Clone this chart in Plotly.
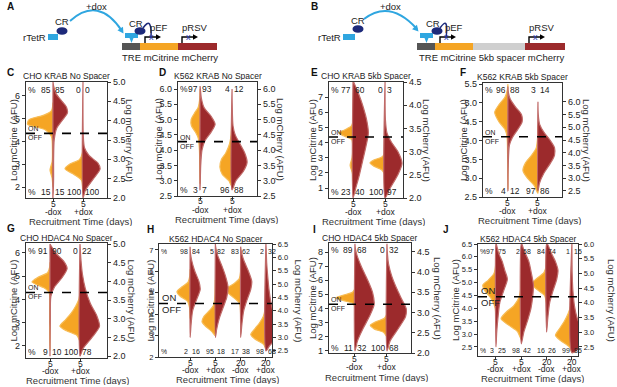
import plotly.graph_objects as go

W, H = 617, 387

# ----------------------------- DATA -----------------------------
# Half-violin profiles: [level, half-width].
# mCitrine halves use the left axis, mCherry halves the right axis.

C_TITLE = "CHO KRAB No Spacer"
C_CATS = ["5<br>-dox", "5<br>+dox"]
C_CIT = [
    [[2.0, 0], [2.4, 0.03], [2.75, 0.1], [3.1, 0.03], [3.6, 0.02], [4.2, 0.05], [4.5, 0.25], [4.75, 0.85], [4.95, 0.8], [5.15, 0.3], [5.35, 0.05], [5.7, 0]],
    [[1.8, 0], [2.3, 0.05], [2.55, 0.3], [2.8, 0.6], [3.0, 0.45], [3.2, 0.12], [3.5, 0.02], [4.0, 0]],
]
C_CHE = [
    [[2.0, 0], [2.5, 0.02], [3.0, 0.02], [3.5, 0.04], [3.8, 0.12], [4.0, 0.3], [4.2, 0.48], [4.35, 0.45], [4.5, 0.3], [4.7, 0.1], [4.9, 0.02], [5.0, 0]],
    [[2.0, 0], [2.2, 0.08], [2.5, 0.35], [2.75, 0.57], [2.9, 0.5], [3.1, 0.2], [3.3, 0.05], [3.6, 0.01], [5.0, 0]],
]
C_TOP = [85, 85, 0, 0]
C_BOT = [15, 15, 100, 100]
C_LTICKS = ["2", "3", "4", "5", "6"]
C_RTICKS = ["2.0", "2.5", "3.0", "3.5", "4.0", "4.5", "5.0"]
C_THRESH = 4.35

D_TITLE = "K562 KRAB No Spacer"
D_CATS = ["5<br>-dox", "5<br>+dox"]
D_CIT = [
    [[2.9, 0], [3.5, 0.01], [4.0, 0.02], [4.4, 0.06], [4.6, 0.15], [4.8, 0.27], [5.0, 0.28], [5.2, 0.18], [5.4, 0.06], [5.7, 0.01], [6.0, 0]],
    [[2.8, 0], [3.0, 0.1], [3.2, 0.3], [3.45, 0.38], [3.7, 0.33], [3.9, 0.2], [4.2, 0.08], [4.5, 0.03], [5.0, 0.005], [5.2, 0]],
]
D_CHE = [
    [[2.7, 0], [3.5, 0.02], [4.0, 0.06], [4.3, 0.15], [4.6, 0.35], [4.85, 0.47], [5.1, 0.35], [5.4, 0.12], [5.7, 0.04], [6.0, 0.01], [6.1, 0]],
    [[2.7, 0], [3.0, 0.12], [3.3, 0.35], [3.6, 0.47], [3.9, 0.4], [4.2, 0.25], [4.5, 0.1], [4.8, 0.03], [5.5, 0.005], [6.0, 0]],
]
D_TOP = [97, 93, 4, 12]
D_BOT = [3, 7, 96, 88]
D_LTICKS = ["2.5", "3.0", "3.5", "4.0", "4.5", "5.0", "5.5", "6.0"]
D_RTICKS = ["2.5", "3.0", "3.5", "4.0", "4.5", "5.0", "5.5", "6.0"]
D_THRESH = 4.28

E_TITLE = "CHO KRAB 5kb Spacer"
E_CATS = ["5<br>-dox", "5<br>+dox"]
E_CIT = [
    [[1.5, 0], [2.0, 0.02], [2.5, 0.09], [3.0, 0.03], [3.5, 0.01], [4.2, 0.04], [4.45, 0.3], [4.65, 0.45], [4.85, 0.25], [5.1, 0.05], [5.4, 0]],
    [[1.9, 0], [2.2, 0.1], [2.45, 0.35], [2.65, 0.47], [2.85, 0.35], [3.05, 0.1], [3.3, 0.01], [3.6, 0]],
]
E_CHE = [
    [[2.0, 0], [2.2, 0.08], [2.5, 0.2], [2.8, 0.3], [3.1, 0.4], [3.4, 0.48], [3.7, 0.42], [4.0, 0.3], [4.2, 0.2], [4.4, 0.08], [4.5, 0.02], [4.55, 0]],
    [[2.0, 0], [2.2, 0.15], [2.5, 0.4], [2.75, 0.53], [3.0, 0.4], [3.2, 0.2], [3.4, 0.06], [3.7, 0.01], [4.5, 0]],
]
E_TOP = [77, 60, 0, 3]
E_BOT = [23, 40, 100, 97]
E_LTICKS = ["1", "2", "3", "4", "5", "6", "7"]
E_RTICKS = ["2.0", "2.5", "3.0", "3.5", "4.0", "4.5"]
E_THRESH = 4.37

F_TITLE = "K562 KRAB 5kb Spacer"
F_CATS = ["5<br>-dox", "5<br>+dox"]
F_CIT = [
    [[2.7, 0], [3.5, 0.01], [4.1, 0.03], [4.3, 0.1], [4.5, 0.3], [4.75, 0.44], [4.95, 0.3], [5.15, 0.1], [5.35, 0.02], [5.5, 0]],
    [[2.6, 0], [2.8, 0.12], [3.0, 0.35], [3.2, 0.5], [3.4, 0.42], [3.6, 0.22], [3.8, 0.06], [4.1, 0.01], [4.4, 0]],
]
F_CHE = [
    [[2.5, 0], [3.5, 0.01], [4.3, 0.05], [4.6, 0.15], [4.9, 0.32], [5.2, 0.47], [5.5, 0.45], [5.8, 0.25], [6.1, 0.08], [6.4, 0.01], [6.6, 0]],
    [[2.5, 0], [2.8, 0.05], [3.2, 0.2], [3.6, 0.42], [3.9, 0.55], [4.2, 0.55], [4.5, 0.4], [4.8, 0.2], [5.1, 0.06], [5.5, 0.01], [6.0, 0]],
]
F_TOP = [96, 88, 3, 14]
F_BOT = [4, 12, 97, 86]
F_LTICKS = ["2.5", "3.0", "3.5", "4.0", "4.5", "5.0", "5.5"]
F_RTICKS = ["2.5", "3.0", "3.5", "4.0", "4.5", "5.0", "5.5", "6.0"]
F_THRESH = 4.1

G_TITLE = "CHO HDAC4 No Spacer"
G_CATS = ["5<br>-dox", "5<br>+dox"]
G_CIT = [
    [[1.8, 0], [2.5, 0.01], [3.5, 0.01], [4.3, 0.03], [4.5, 0.2], [4.75, 0.6], [4.95, 0.4], [5.15, 0.08], [5.4, 0.01], [5.6, 0]],
    [[2.2, 0], [2.45, 0.1], [2.65, 0.45], [2.85, 0.67], [3.1, 0.5], [3.4, 0.3], [3.7, 0.15], [4.0, 0.04], [4.3, 0]],
]
G_CHE = [
    [[2.0, 0], [3.0, 0.01], [3.6, 0.03], [3.85, 0.15], [4.1, 0.4], [4.35, 0.57], [4.55, 0.45], [4.75, 0.2], [4.95, 0.04], [5.0, 0]],
    [[2.0, 0], [2.2, 0.1], [2.5, 0.4], [2.8, 0.65], [3.1, 0.55], [3.4, 0.35], [3.8, 0.18], [4.2, 0.08], [4.6, 0.03], [5.0, 0]],
]
G_TOP = [91, 90, 0, 22]
G_BOT = [9, 10, 100, 78]
G_LTICKS = ["2", "3", "4", "5", "6"]
G_RTICKS = ["2.0", "2.5", "3.0", "3.5", "4.0", "4.5", "5.0"]
G_THRESH = 4.3

H_TITLE = "K562 HDAC4 No Spacer"
H_CATS = ["5<br>-dox", "5<br>+dox", "20<br>-dox", "20<br>+dox"]
H_CIT = [
    [[3.8, 0], [4.3, 0.02], [4.6, 0.1], [4.85, 0.4], [5.05, 0.52], [5.25, 0.35], [5.5, 0.08], [5.8, 0.01], [6.1, 0]],
    [[3.0, 0], [3.2, 0.15], [3.45, 0.4], [3.65, 0.53], [3.9, 0.45], [4.15, 0.25], [4.4, 0.08], [4.8, 0.02], [5.3, 0.005], [5.6, 0]],
    [[4.0, 0], [4.5, 0.04], [4.75, 0.25], [5.0, 0.5], [5.2, 0.56], [5.4, 0.3], [5.65, 0.06], [6.0, 0]],
    [[2.4, 0], [2.6, 0.1], [2.85, 0.45], [3.05, 0.6], [3.3, 0.45], [3.6, 0.25], [3.9, 0.1], [4.3, 0.03], [4.8, 0.005], [5.0, 0]],
]
H_CHE = [
    [[3.0, 0], [3.5, 0.04], [4.0, 0.1], [4.4, 0.25], [4.8, 0.4], [5.1, 0.35], [5.5, 0.18], [5.9, 0.06], [6.2, 0.01], [6.4, 0]],
    [[3.0, 0], [3.3, 0.05], [3.7, 0.15], [4.1, 0.3], [4.5, 0.45], [4.9, 0.5], [5.3, 0.4], [5.7, 0.25], [6.1, 0.08], [6.4, 0.01], [6.5, 0]],
    [[3.0, 0], [3.5, 0.05], [4.0, 0.12], [4.4, 0.25], [4.8, 0.4], [5.1, 0.44], [5.5, 0.3], [5.9, 0.12], [6.2, 0.03], [6.4, 0]],
    [[2.5, 0], [2.7, 0.15], [3.0, 0.45], [3.2, 0.53], [3.5, 0.45], [3.9, 0.3], [4.3, 0.2], [4.8, 0.12], [5.3, 0.07], [5.8, 0.03], [6.3, 0.01], [6.5, 0]],
]
H_TOP = [98, 84, 5, 82, 83, 62, 2, 32]
H_BOT = [2, 16, 95, 18, 17, 38, 98, 68]
H_LTICKS = ["2", "3", "4", "5", "6", "7"]
H_RTICKS = ["2.5", "3.0", "3.5", "4.0", "4.5", "5.0", "5.5", "6.0", "6.5"]
H_THRESH = 4.5

I_TITLE = "CHO HDAC4 5kb Spacer"
I_CATS = ["5<br>-dox", "5<br>+dox"]
I_CIT = [
    [[4.1, 0], [4.35, 0.05], [4.55, 0.35], [4.75, 0.6], [4.95, 0.35], [5.15, 0.08], [5.4, 0]],
    [[2.0, 0], [2.3, 0.1], [2.55, 0.4], [2.8, 0.52], [3.05, 0.35], [3.3, 0.08], [3.6, 0]],
]
I_CHE = [
    [[2.05, 0], [2.3, 0.08], [2.6, 0.25], [2.9, 0.45], [3.2, 0.6], [3.5, 0.55], [3.8, 0.4], [4.1, 0.22], [4.4, 0.07], [4.6, 0.01], [4.7, 0]],
    [[2.05, 0], [2.3, 0.1], [2.6, 0.35], [2.9, 0.58], [3.1, 0.6], [3.35, 0.45], [3.6, 0.3], [3.9, 0.15], [4.2, 0.05], [4.5, 0.01], [4.7, 0]],
]
I_TOP = [89, 68, 0, 32]
I_BOT = [11, 32, 100, 68]
I_LTICKS = ["1", "2", "3", "4", "5", "6", "7", "8"]
I_RTICKS = ["2.0", "2.5", "3.0", "3.5", "4.0", "4.5"]
I_THRESH = 4.3

J_TITLE = "K562 HDAC4 5kb Spacer"
J_CATS = ["5<br>-dox", "5<br>+dox", "20<br>-dox", "20<br>+dox"]
J_CIT = [
    [[3.5, 0], [4.0, 0.03], [4.4, 0.2], [4.7, 0.45], [4.9, 0.52], [5.1, 0.3], [5.35, 0.08], [5.7, 0.01], [6.0, 0]],
    [[2.8, 0], [3.1, 0.15], [3.35, 0.5], [3.6, 0.8], [3.85, 0.6], [4.1, 0.3], [4.4, 0.1], [4.8, 0.02], [5.2, 0]],
    [[4.2, 0], [4.5, 0.08], [4.75, 0.4], [4.95, 0.6], [5.15, 0.4], [5.4, 0.1], [5.7, 0.01], [6.0, 0]],
    [[2.3, 0], [2.5, 0.1], [2.75, 0.45], [2.95, 0.65], [3.2, 0.5], [3.5, 0.3], [3.8, 0.15], [4.1, 0.05], [4.5, 0.01], [4.8, 0]],
]
J_CHE = [
    [[2.5, 0], [3.0, 0.03], [3.5, 0.08], [4.0, 0.15], [4.4, 0.3], [4.8, 0.45], [5.1, 0.35], [5.4, 0.25], [5.7, 0.1], [6.0, 0.01]],
    [[2.6, 0], [3.0, 0.1], [3.4, 0.25], [3.8, 0.38], [4.2, 0.45], [4.6, 0.48], [5.0, 0.4], [5.4, 0.3], [5.8, 0.1], [6.0, 0.02]],
    [[3.0, 0], [3.5, 0.05], [4.0, 0.12], [4.4, 0.25], [4.8, 0.4], [5.1, 0.45], [5.4, 0.35], [5.7, 0.18], [6.0, 0.03]],
    [[2.3, 0], [2.5, 0.35], [2.7, 0.7], [2.9, 0.55], [3.2, 0.35], [3.5, 0.2], [3.9, 0.1], [4.4, 0.04], [5.0, 0.01], [6.0, 0]],
]
J_TOP = [97, 75, 2, 58, 84, 74, 1, 15]
J_BOT = [3, 25, 98, 42, 16, 26, 99, 85]
J_LTICKS = ["2.5", "3.0", "3.5", "4.0", "4.5", "5.0", "5.5", "6.0", "6.5"]
J_RTICKS = ["2.5", "3.0", "3.5", "4.0", "4.5", "5.0", "5.5", "6.0"]
J_THRESH = 4.45

# Schematic labels
A_PARTS = ["TRE", "mCitrine", "mCherry"]
B_PARTS = ["TRE", "mCitrine", "5kb spacer", "mCherry"]

# ----------------------------- STYLE / GEOMETRY -----------------------------
ORANGE = "#F5A524"
ORANGE_RIM = "#F7BC55"
RED = "#9C2A2C"
RED_RIM = "#C06A68"
NAVY = "#1D2A7A"
LBLUE = "#2FA6E0"
FRAME = "#333333"
FONT = "Liberation Sans, Arial, sans-serif"

# cat label offsets below box: (day line, dox line, axis title)
TOP_OFF = (5.5, 14, 23)
BOT_OFF = (5.5, 13, 21.5)

PANELS = [
    dict(key="C", title=C_TITLE, cats=C_CATS, cit=C_CIT, che=C_CHE, top=C_TOP, bot=C_BOT, lt=C_LTICKS, rt=C_RTICKS, th=C_THRESH,
         box=(26, 107, 82, 198), xr=(-0.9, 1.8), yl=(1.52, 6.6), yr=(2.0, 5.0), ltx=13, rtx=130, xt=81, letter=(6, 72), small=False, off=TOP_OFF),
    dict(key="D", title=D_TITLE, cats=D_CATS, cit=D_CIT, che=D_CHE, top=D_TOP, bot=D_BOT, lt=D_LTICKS, rt=D_RTICKS, th=D_THRESH,
         box=(178, 257, 82, 196), xr=(-0.69, 1.78), yl=(2.5, 6.23), yr=(2.5, 6.23), ltx=158, rtx=281, xt=226, letter=(158, 72), small=False, off=TOP_OFF),
    dict(key="E", title=E_TITLE, cats=E_CATS, cit=E_CIT, che=E_CHE, top=E_TOP, bot=E_BOT, lt=E_LTICKS, rt=E_RTICKS, th=E_THRESH,
         box=(329, 403, 82, 198), xr=(-0.75, 1.56), yl=(0.35, 8.0), yr=(2.0, 4.5), ltx=312, rtx=427, xt=373, letter=(310, 72), small=False, off=TOP_OFF),
    dict(key="F", title=F_TITLE, cats=F_CATS, cit=F_CIT, che=F_CHE, top=F_TOP, bot=F_BOT, lt=F_LTICKS, rt=F_RTICKS, th=F_THRESH,
         box=(483, 562, 83, 197), xr=(-0.83, 1.8), yl=(2.5, 5.53), yr=(2.26, 6.74), ltx=463, rtx=587, xt=529, letter=(459, 72), small=False, off=TOP_OFF),
    dict(key="G", title=G_TITLE, cats=G_CATS, cit=G_CIT, che=G_CHE, top=G_TOP, bot=G_BOT, lt=G_LTICKS, rt=G_RTICKS, th=G_THRESH,
         box=(26, 107, 243, 358), xr=(-0.8, 1.9), yl=(1.48, 6.43), yr=(1.95, 5.03), ltx=13, rtx=131, xt=78, letter=(6, 228), small=False, off=BOT_OFF),
    dict(key="H", title=H_TITLE, cats=H_CATS, cit=H_CIT, che=H_CHE, top=H_TOP, bot=H_BOT, lt=H_LTICKS, rt=H_RTICKS, th=H_THRESH,
         box=(159, 272, 244, 357), xr=(-1.23, 3.24), yl=(2.0, 7.28), yr=(2.27, 6.5), ltx=150, rtx=298, xt=227, letter=(146, 229), small=True, off=BOT_OFF),
    dict(key="I", title=I_TITLE, cats=I_CATS, cit=I_CIT, che=I_CHE, top=I_TOP, bot=I_BOT, lt=I_LTICKS, rt=I_RTICKS, th=I_THRESH,
         box=(329, 411, 243, 353), xr=(-0.81, 1.75), yl=(0.84, 8.64), yr=(2.0, 4.72), ltx=312, rtx=438, xt=376, letter=(312, 229), small=False, off=(5.5, 14, 24)),
    dict(key="J", title=J_TITLE, cats=J_CATS, cit=J_CIT, che=J_CHE, top=J_TOP, bot=J_BOT, lt=J_LTICKS, rt=J_RTICKS, th=J_THRESH,
         box=(478, 578, 244, 356), xr=(-0.71, 3.24), yl=(2.15, 6.5), yr=(2.19, 6.0), ltx=455, rtx=612, xt=532, letter=(442, 229), small=True, off=(5.5, 13, 22)),
]


def px(x):
    return x / W


def py(y):
    return 1 - y / H


def axn(kind, n):
    return f"{kind}axis" if n == 1 else f"{kind}axis{n}"


def axr(kind, n):
    return kind if n == 1 else f"{kind}{n}"


fig = go.Figure()
layout = dict(width=W, height=H, margin=dict(l=0, r=0, t=0, b=0), paper_bgcolor="white",
              plot_bgcolor="rgba(0,0,0,0)", showlegend=False, font=dict(family=FONT, color="#222"))
annotations = []
shapes = []


def half_violin(prof, c, side, color, rim, xref, yref):
    vs = [p[0] for p in prof]
    ws = [p[1] for p in prof]
    xs = [c + side * w for w in ws] + [c, c]
    ys = vs + [vs[-1], vs[0]]
    return go.Scatter(x=xs, y=ys, xaxis=xref, yaxis=yref, mode="lines", fill="toself",
                      fillcolor=color, line=dict(color=rim, width=1.2, shape="spline", smoothing=0.7),
                      hoverinfo="skip", showlegend=False)


def note(s, xref, x, yref, y, size, xanchor="center", yanchor="middle", h=None, color="#222", angle=0):
    d = dict(text=s, xref=xref, x=x, yref=yref, y=y, xanchor=xanchor, yanchor=yanchor, showarrow=False,
             font=dict(size=size, color=color), borderpad=0, textangle=angle)
    if h is not None:
        d["height"] = h
    annotations.append(d)


for i, p in enumerate(PANELS):
    xn, yln, yrn = i + 1, 2 * i + 1, 2 * i + 2
    xid, ylid, yrid = axr("x", xn), axr("y", yln), axr("y", yrn)
    l, r, t, b = p["box"]
    n = len(p["cats"])
    tfs = 7.5 if p["small"] else 9
    layout[axn("x", xn)] = dict(domain=[px(l), px(r)], anchor=ylid, range=list(p["xr"]),
                                tickvals=list(range(n)), showticklabels=False, showline=True, mirror=True,
                                linecolor=FRAME, linewidth=1.2, ticks="outside", ticklen=3, tickcolor=FRAME,
                                showgrid=False, zeroline=False, automargin=False)
    layout[axn("y", yln)] = dict(domain=[py(b), py(t)], anchor=xid, range=list(p["yl"]),
                                 tickvals=[float(v) for v in p["lt"]], ticktext=p["lt"], showline=True,
                                 linecolor=FRAME, linewidth=1.2, ticks="outside", ticklen=3, tickcolor=FRAME,
                                 tickfont=dict(size=tfs, family=FONT), showgrid=False, zeroline=False, automargin=False)
    layout[axn("y", yrn)] = dict(domain=[py(b), py(t)], anchor=xid, overlaying=ylid, side="right",
                                 range=list(p["yr"]), tickvals=[float(v) for v in p["rt"]], ticktext=p["rt"],
                                 showline=True, linecolor=FRAME, linewidth=1.2, ticks="outside", ticklen=3,
                                 tickcolor=FRAME, tickfont=dict(size=tfs, family=FONT), showgrid=False,
                                 zeroline=False, automargin=False)

    for k in range(n):
        fig.add_trace(half_violin(p["cit"][k], k, -1, ORANGE, ORANGE_RIM, xid, ylid))
        fig.add_trace(half_violin(p["che"][k], k, 1, RED, RED_RIM, xid, yrid))

    o1, o2, o3 = p["off"]
    for k, cat in enumerate(p["cats"]):
        day, dox = cat.split("<br>")
        note(day, xid, k, "paper", py(b + o1), 8.5)
        note(dox, xid, k, "paper", py(b + o2), 8.5)

    shapes.append(dict(type="line", xref=f"{xid} domain", x0=0, x1=1, yref=ylid, y0=p["th"], y1=p["th"],
                       line=dict(color="black", width=1.6, dash="dash"), layer="above"))
    oo = 9.5 if p["small"] else 7
    note("ON", f"{xid} domain", 0.015, ylid, p["th"], oo, xanchor="left", yanchor="bottom", h=oo)
    note("OFF", f"{xid} domain", 0.015, ylid, p["th"], oo, xanchor="left", yanchor="top", h=oo)

    pf = 7 if p["small"] else 8.5
    for vals, yy in ((p["top"], 0.93), (p["bot"], 0.045)):
        note("%", f"{xid} domain", 0.01, f"{ylid} domain", yy, pf, xanchor="left", h=pf)
        for k in range(n):
            note(str(vals[2 * k]), xid, k - 0.03, f"{ylid} domain", yy, pf, xanchor="right", h=pf)
            note(str(vals[2 * k + 1]), xid, k + 0.03, f"{ylid} domain", yy, pf, xanchor="left", h=pf)

    note(p["title"], "paper", px((l + r) / 2), "paper", py(t - 0.5), 8.5, yanchor="bottom", h=9)
    note("Recruitment Time (days)", "paper", px(p["xt"]), "paper", py(b + o3), 9.5, h=10, color="#333")
    note("Log mCitrine (AFU)", "paper", px(p["ltx"]), "paper", py((t + b) / 2), 9.5, angle=-90, color="#333")
    note("Log mCherry (AFU)", "paper", px(p["rtx"]), "paper", py((t + b) / 2), 9.5, angle=90, color="#333")
    note(f"<b>{p['key']}</b>", "paper", px(p["letter"][0]), "paper", py(p["letter"][1]), 10,
         xanchor="left", color="#111")


# ----------------------------- SCHEMATICS -----------------------------
def P(x, y):
    return f"{px(x):.5f},{py(y):.5f}"


def rect(x0, y0, x1, y1, color):
    shapes.append(dict(type="rect", xref="paper", yref="paper", x0=px(x0), x1=px(x1), y0=py(y1), y1=py(y0),
                       fillcolor=color, line=dict(width=0), layer="above"))


def ellipse(cx, cy, rx, ry, color):
    shapes.append(dict(type="circle", xref="paper", yref="paper", x0=px(cx - rx), x1=px(cx + rx),
                       y0=py(cy + ry), y1=py(cy - ry), fillcolor=color, line=dict(width=0), layer="above"))


def path(pts_str, color, width=1.5, fill=None):
    shapes.append(dict(type="path", xref="paper", yref="paper", path=pts_str,
                       line=dict(color=color, width=width if fill is None else 0),
                       fillcolor=fill if fill else "rgba(0,0,0,0)", layer="above"))


def arrowhead(tx, ty, dx, dy, size, color):
    import math
    L = math.hypot(dx, dy)
    ux, uy = dx / L, dy / L
    bx, by = tx - ux * size, ty - uy * size
    nx, ny = -uy * size * 0.55, ux * size * 0.55
    path(f"M{P(tx, ty)} L{P(bx + nx, by + ny)} L{P(bx - nx, by - ny)} Z", color, fill=color)


def text(s, x, y, size=9.5, color="#222", xanchor="center"):
    note(s, "paper", px(x), "paper", py(y), size, xanchor=xanchor, color=color)


def promoter(x, x_end, color="black"):
    path(f"M{P(x, 43)} L{P(x, 37)} L{P(x_end, 37)}", color, width=1.4)
    arrowhead(x_end + 4, 37, 1, 0, 5, color)


def schematic(parts_x, parts_col, labels, label_cx, cr1, cr2, tet1, tet2x, arc, pef_x, prsv_x, x_marks):
    (x0, y0), (cx, cy), (x1, y1) = arc
    path(f"M{P(x0, y0)} Q{P(cx, cy)} {P(x1, y1)}", LBLUE, width=2)
    arrowhead(x1 + 1.5, y1 + 2.5, x1 - cx, y1 - cy, 6, LBLUE)
    text("+dox", (x0 + x1) / 2, 7, size=9.5)
    rect(tet1[0], 34, tet1[1], 40, LBLUE)
    ellipse(cr1[0], cr1[1], 5.5, 3.8, NAVY)
    text("CR", cr1[0], cr1[1] - 9, size=9.5)
    text("rTetR", tet1[0] - 1, 37, size=9.5, xanchor="right")
    a = tet2x
    path(f"M{P(a, 33)} L{P(a + 13, 33)} L{P(a + 13, 38)} L{P(a + 8.5, 38)} L{P(a + 6.5, 43)} L{P(a + 4.5, 38)} L{P(a, 38)} Z",
         LBLUE, fill=LBLUE)
    ellipse(cr2[0], cr2[1], 5.5, 3.8, NAVY)
    text("CR", cr2[0] - 4, cr2[1] - 8, size=9.5)
    for (xa, xb), col in zip(parts_x, parts_col):
        rect(xa, 43, xb, 50, col)
    text(" ".join(labels), label_cx, 57, size=9.5)
    promoter(pef_x, pef_x + 12)
    text("pEF", pef_x + 14, 28, size=9.5)
    promoter(prsv_x, prsv_x + 12)
    text("pRSV", prsv_x + 12, 28, size=9.5)
    path(f"M{P(cr2[0] + 3, cr2[1] - 3)} Q{P(cr2[0] + 12, cr2[1] - 16)} {P(pef_x + 6, 38)}", NAVY, width=1.5)
    for xm in x_marks:
        text("x", xm, 37.5, size=9, color="#2B3BB0")


schematic([(122, 140), (140, 178), (178, 217)], ["#555555", ORANGE, RED], A_PARTS, 170,
          (62, 31), (140, 31), (48, 58), 125, ((70, 21), (98.5, -4.5), (122, 31)), 145, 182, [151, 188])
schematic([(417, 435), (435, 473), (473, 525), (525, 565)], ["#555555", ORANGE, "#CFCFCF", RED], B_PARTS, 491,
          (358, 29), (437, 31), (343, 355), 420, ((364, 19), (390, -1), (417, 29)), 440, 529, [446, 535])

text("<b>A</b>", 6, 7, size=10, color="#111", xanchor="left")
text("<b>B</b>", 310, 7, size=10, color="#111", xanchor="left")

layout["annotations"] = annotations
layout["shapes"] = shapes
fig.update_layout(**layout)
fig.write_html("out.html", config={"displayModeBar": False, "staticPlot": True},
               post_script="document.body.style.margin='0';document.body.style.overflow='hidden';")
